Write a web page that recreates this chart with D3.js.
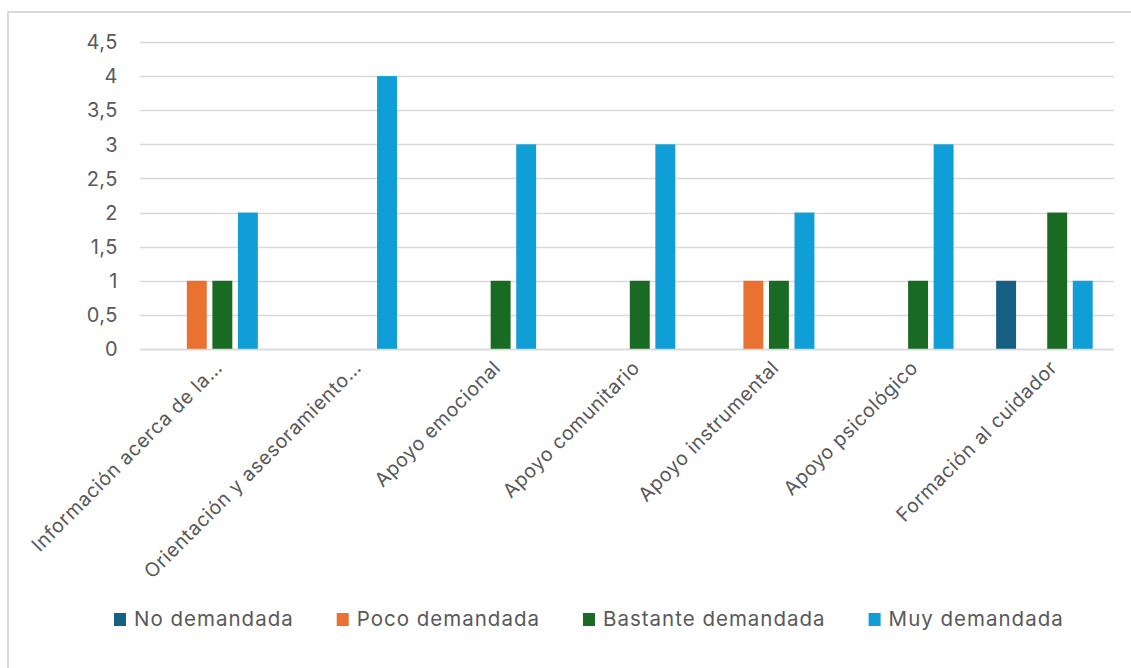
<!DOCTYPE html>
<html>
<head>
<meta charset="utf-8">
<script src="https://cdn.jsdelivr.net/npm/d3@7"></script>
<style>
  body { margin: 0; background: #fff; }
  svg { display: block; font-family: Inter, "Noto Sans", sans-serif; }
</style>
</head>
<body>
<div id="chart-area"></div>
<script>
var categories = [
  "Información acerca de la…",
  "Orientación y asesoramiento…",
  "Apoyo emocional",
  "Apoyo comunitario",
  "Apoyo instrumental",
  "Apoyo psicológico",
  "Formación al cuidador"
];
var seriesNames = ["No demandada", "Poco demandada", "Bastante demandada", "Muy demandada"];
var noDemandada = [0, 0, 0, 0, 0, 0, 1];
var pocoDemandada = [1, 0, 0, 0, 1, 0, 0];
var bastanteDemandada = [1, 0, 1, 1, 1, 1, 2];
var muyDemandada = [2, 4, 3, 3, 2, 3, 1];
var yTicks = [0, 0.5, 1, 1.5, 2, 2.5, 3, 3.5, 4, 4.5];
var colors = ["#156082", "#E97132", "#196B24", "#0F9ED5"];

var seriesValues = [noDemandada, pocoDemandada, bastanteDemandada, muyDemandada];
var data = categories.map(function (c, i) {
  return {
    cat: c,
    values: seriesNames.map(function (s, j) {
      return { key: s, value: seriesValues[j][i] };
    })
  };
});

var W = 1131, H = 668;
var plotLeft = 140, plotRight = 1114, plotTop = 42, plotBottom = 349;

var svg = d3
  .select("#chart-area")
  .append("svg")
  .attr("width", W)
  .attr("height", H);

// outer border (chart is cropped on right/bottom)
svg
  .append("rect")
  .attr("x", 8)
  .attr("y", 12)
  .attr("width", 1300)
  .attr("height", 800)
  .attr("fill", "none")
  .attr("stroke", "#d9d9d9")
  .attr("stroke-width", 2);

var x0 = d3.scaleBand().domain(categories).range([plotLeft, plotRight]).paddingInner(0.306).paddingOuter(0.153);
var x1 = d3.scaleBand().domain(seriesNames).range([0, x0.bandwidth()]).paddingInner(0.22);
var y = d3.scaleLinear().domain([0, 4.5]).range([plotBottom, plotTop]);
var fmt = function (d) { return String(d).replace(".", ","); };

// gridlines
svg
  .append("g")
  .selectAll("line")
  .data(yTicks)
  .enter()
  .append("line")
  .attr("x1", plotLeft)
  .attr("x2", plotRight)
  .attr("y1", function (d) { return Math.round(y(d)) + 0.5; })
  .attr("y2", function (d) { return Math.round(y(d)) + 0.5; })
  .attr("stroke", "#d9d9d9")
  .attr("stroke-width", 1.5);

// y labels
svg
  .append("g")
  .selectAll("text")
  .data(yTicks)
  .enter()
  .append("text")
  .attr("x", 118)
  .attr("y", function (d) { return y(d); })
  .attr("dy", "0.36em")
  .attr("text-anchor", "end")
  .attr("fill", "#595959")
  .attr("font-size", "20px")
  .attr("letter-spacing", "0.5px")
  .text(fmt);

// bars
var groups = svg
  .append("g")
  .selectAll("g")
  .data(data)
  .enter()
  .append("g")
  .attr("transform", function (d) { return "translate(" + x0(d.cat) + ",0)"; });

groups
  .selectAll("rect")
  .data(function (d) { return d.values; })
  .enter()
  .append("rect")
  .attr("x", function (d) { return x1(d.key); })
  .attr("width", x1.bandwidth())
  .attr("y", function (d) { return y(d.value); })
  .attr("height", function (d) { return y(0) - y(d.value); })
  .attr("fill", function (d, i) { return colors[i]; });

// baseline
svg
  .append("line")
  .attr("x1", plotLeft)
  .attr("x2", plotRight)
  .attr("y1", plotBottom + 0.5)
  .attr("y2", plotBottom + 0.5)
  .attr("stroke", "#d9d9d9")
  .attr("stroke-width", 1.5);

// category labels
svg
  .append("g")
  .selectAll("text")
  .data(categories)
  .enter()
  .append("text")
  .attr("transform", function (d) {
    var cx = x0(d) + x0.bandwidth() / 2;
    return "translate(" + (cx + 14) + ",369) rotate(-45)";
  })
  .attr("text-anchor", "end")
  .attr("fill", "#595959")
  .attr("font-size", "19.5px")
  .attr("letter-spacing", "0.6px")
  .text(function (d) { return d; });

// legend
var legend = svg.append("g").attr("class", "legend");
var lx = 114;
seriesNames.forEach(function (s, i) {
  var item = legend.append("g").attr("transform", "translate(" + lx + ",0)");
  item
    .append("rect")
    .attr("x", 0)
    .attr("y", 613)
    .attr("width", 12)
    .attr("height", 13)
    .attr("fill", colors[i]);
  var t = item
    .append("text")
    .attr("x", 20)
    .attr("y", 626)
    .attr("fill", "#595959")
    .attr("font-size", "20.5px")
    .attr("letter-spacing", "1px")
    .text(s);
  lx += 20 + t.node().getComputedTextLength() + 43;
});
</script>
</body>
</html>
